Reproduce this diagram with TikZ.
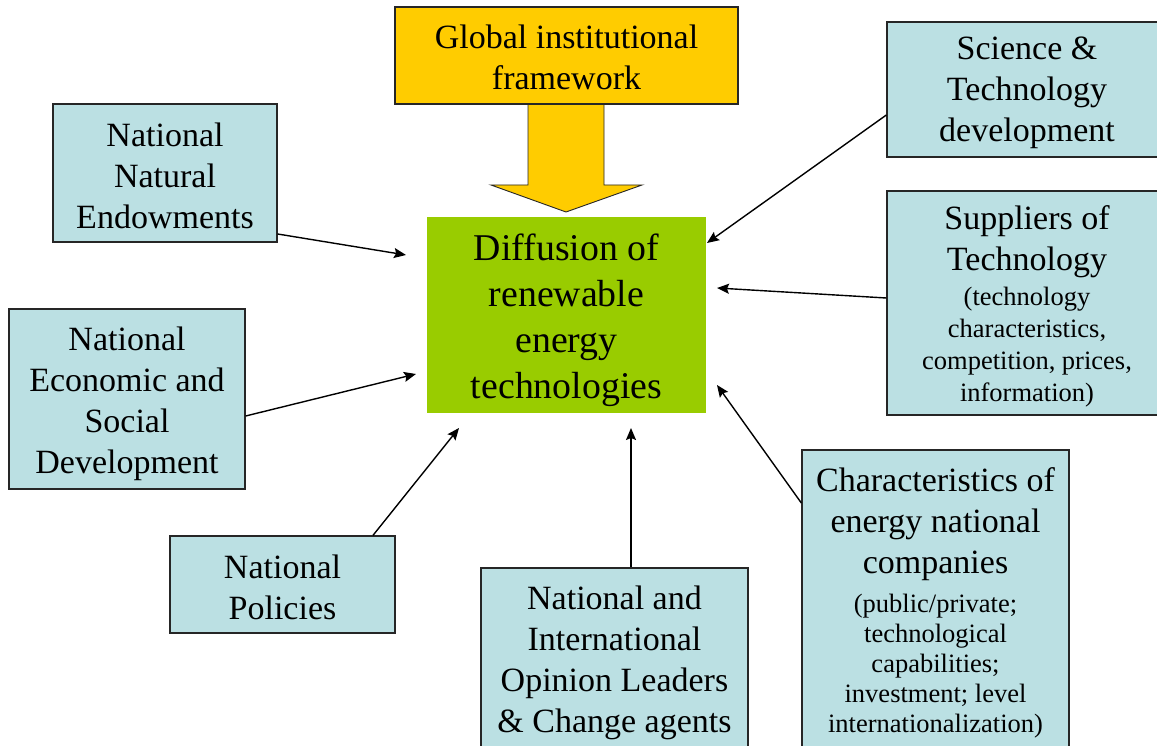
\documentclass[tikz,border=0pt]{standalone}
\usepackage{fontspec}
\setmainfont{Liberation Serif}
\usetikzlibrary{arrows.meta}
\definecolor{boxblue}{RGB}{187,224,227}
\definecolor{leafgreen}{RGB}{153,204,0}
\definecolor{gold}{RGB}{255,204,0}
\tikzset{
  box/.style={draw=black!85, line width=1.3pt, fill=boxblue, align=center, inner sep=0pt,
    font=\fontsize{34}{41}\selectfont},
  conn/.style={-{Stealth[length=12pt,width=10pt,inset=2pt]}, line width=1.4pt},
}
\newcommand{\smalltxt}{\fontsize{26.5}{30}\selectfont}
% push a node's text block down by #1 (extra height of 2x#1 on its first line)
\newcommand{\dn}[2]{\raisebox{0pt}[\dimexpr\height+2\dimexpr#1\relax\relax]{#2}}
\begin{document}
\begin{tikzpicture}[x=1pt,y=-1pt]
\clip (0,0) rectangle (1157,746);
\fill[white] (0,0) rectangle (1157,746);

% big block arrow
\draw[fill=gold, draw=black!85, line width=0.9pt]
  (528,104) -- (528,185) -- (491,185) -- (566,212) -- (642,185) -- (604,185) -- (604,104);

\node[box, fill=gold, minimum width=343pt, minimum height=97pt] (glob) at (566.5,55.5)
  {\dn{1.5pt}{Global institutional}\\framework};

\node[fill=leafgreen, align=center, inner sep=0pt, minimum width=279pt, minimum height=196pt,
  font=\fontsize{37.8}{46}\selectfont] (diff) at (566.5,315)
  {\dn{5.5pt}{Diffusion of}\\renewable\\energy\\technologies};

\node[box, minimum width=224pt, minimum height=138pt] (nne) at (165,173)
  {\dn{3pt}{National}\\Natural\\Endowments};
\node[box, minimum width=236pt, minimum height=180pt] (nesd) at (127,399)
  {\dn{5pt}{National}\\Economic and\\Social\\Development};
\node[box, minimum width=225pt, minimum height=97pt] (np) at (282.5,584.5)
  {\dn{3pt}{National}\\Policies};
\node[box, minimum width=267pt, minimum height=184pt] (niol) at (614.5,660)
  {\dn{3pt}{National and}\\International\\Opinion Leaders\\\& Change agents};
\node[box, minimum width=267pt, minimum height=302pt] (cenc) at (935.5,601)
  {\dn{1.5pt}{Characteristics of}\\energy national\\companies\\[-2pt]
   {\smalltxt (public/private;}\\[-11pt]
   {\smalltxt technological}\\[-11pt]
   {\smalltxt capabilities;}\\[-11pt]
   {\smalltxt investment; level}\\[-11pt]
   {\smalltxt internationalization)}};
\node[box, minimum width=280pt, minimum height=224pt] (sup) at (1027,303)
  {\dn{3pt}{Suppliers of}\\Technology\\[-6pt]
   {\smalltxt (technology}\\[-9pt]
   {\smalltxt characteristics,}\\[-9pt]
   {\smalltxt competition, prices,}\\[-9pt]
   {\smalltxt information)}};
\node[box, minimum width=280pt, minimum height=135pt] (st) at (1027,89.5)
  {\dn{3pt}{Science \&}\\Technology\\development};

% arrow tips near the central box
\coordinate (t1) at (406,255);
\coordinate (t2) at (416,374);
\coordinate (t3) at (459,428);
\coordinate (t4) at (631,428);
\coordinate (t5) at (717,385);
\coordinate (t6) at (717,288);
\coordinate (t7) at (707,243);

\draw[conn] ([yshift=-61pt]nne.east) -- (t1);
\draw[conn] ([yshift=-17pt]nesd.east) -- (t2);
\draw[conn] ([xshift=90.5pt]np.north) -- (t3);
\draw[conn] ([xshift=16.5pt]niol.north) -- (t4);
\draw[conn] ([yshift=98pt]cenc.west) -- (t5);
\draw[conn] ([yshift=5pt]sup.west) -- (t6);
\draw[conn] ([yshift=-25.5pt]st.west) -- (t7);
\end{tikzpicture}
\end{document}
